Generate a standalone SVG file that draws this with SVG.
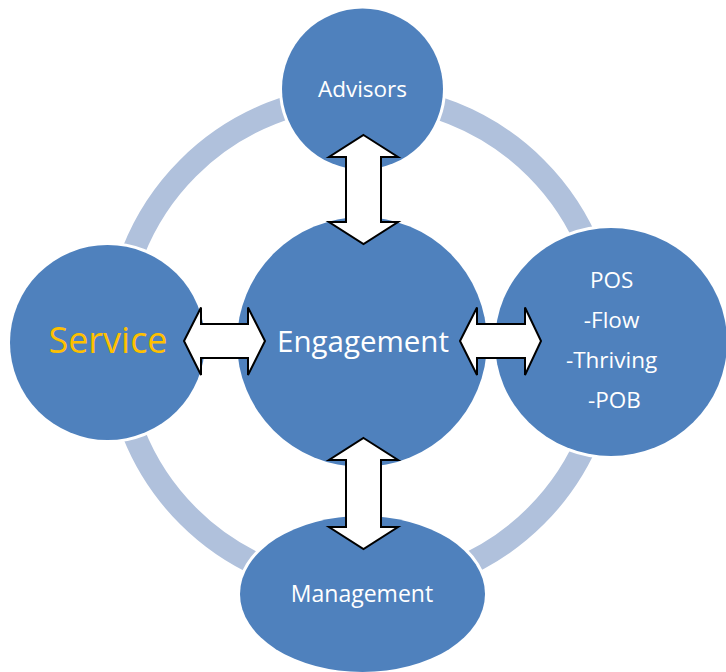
<svg xmlns="http://www.w3.org/2000/svg" width="726" height="672" viewBox="0 0 726 672">
  <style>
    .node { fill: #4F81BD; stroke: #FFFFFF; stroke-width: 6; paint-order: stroke; }
    .label { font-family: "Open Sans", "Liberation Sans", sans-serif; fill: #FFFFFF; text-anchor: middle; }
    .ring { fill: none; stroke: #B0C1DC; stroke-width: 23; }
    .arrow { fill: #FFFFFF; stroke: #000000; stroke-width: 2; stroke-linejoin: miter; }
  </style>
  <rect width="726" height="672" fill="#FFFFFF"/>

  <!-- outer cycle ring -->
  <circle class="ring" cx="362" cy="342" r="246"/>

  <g id="engagement">
    <circle class="node" cx="362" cy="342" r="125"/>
    <text class="label" x="363" y="352" font-size="29.5">Engagement</text>
  </g>

  <g id="advisors">
    <circle class="node" cx="362.5" cy="89" r="80.5"/>
    <text class="label" x="362.5" y="97" font-size="22.5">Advisors</text>
  </g>

  <g id="service">
    <circle class="node" cx="107.5" cy="342.5" r="97.5"/>
    <text class="label" x="108" y="353" font-size="36" style="fill:#FFC000">Service</text>
  </g>

  <g id="pos">
    <ellipse class="node" cx="611" cy="342" rx="116" ry="114"/>
    <text class="label" font-size="22.5">
      <tspan x="614.5" y="288">POS</tspan>
      <tspan x="614.5" y="328">-Flow</tspan>
      <tspan x="614.5" y="368">-Thriving</tspan>
      <tspan x="614.5" y="408">-POB</tspan>
    </text>
  </g>

  <g id="management">
    <ellipse class="node" cx="362.5" cy="594" rx="122.5" ry="78"/>
    <text class="label" x="362" y="602" font-size="23">Management</text>
  </g>

  <!-- two-way block arrows between the hub and each node -->
  <g id="connectors">
    <polygon class="arrow" points="363.5,135 398,157 381,157 381,222 398,222 363.5,244 329,222 346,222 346,157 329,157"/>
    <polygon class="arrow" points="363.5,438 398,460 381,460 381,527 398,527 363.5,549 329,527 346,527 346,460 329,460"/>
    <polygon class="arrow" points="184,341 201,307.5 201,324 248,324 248,307.5 265,341 248,375 248,358 201,358 201,375"/>
    <polygon class="arrow" points="460,341 477,307.5 477,324 525,324 525,307.5 541,341 525,375 525,358 477,358 477,375"/>
  </g>
</svg>
